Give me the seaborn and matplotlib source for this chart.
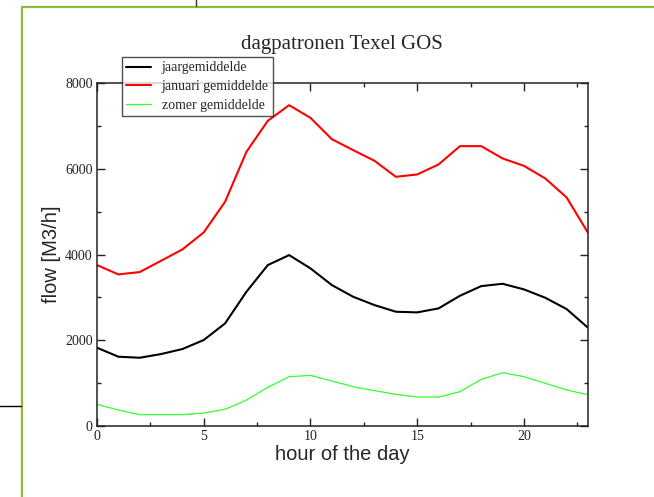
import numpy as np
import pandas as pd
import matplotlib
matplotlib.use("Agg")
import matplotlib.pyplot as plt
from matplotlib.lines import Line2D
from matplotlib.ticker import MultipleLocator
import seaborn as sns

hours = list(range(24))
jaar = [1826, 1616, 1592, 1678, 1795, 2005, 2393, 3131, 3753, 3986, 3676, 3287,
        3014, 2820, 2665, 2650, 2743, 3037, 3263, 3317, 3186, 2991, 2727, 2292]
januari = [3753, 3536, 3590, 3853, 4118, 4515, 5230, 6395, 7118, 7483, 7187, 6690,
           6434, 6185, 5812, 5867, 6100, 6527, 6527, 6240, 6068, 5773, 5330, 4506]
zomer = [505, 373, 264, 264, 264, 303, 389, 606, 902, 1150, 1181, 1049,
         917, 824, 738, 676, 676, 800, 1088, 1243, 1150, 995, 839, 730]
series_names = ["jaargemiddelde", "januari gemiddelde", "zomer gemiddelde"]
series_colors = ["#000000", "#ff0000", "#33ff33"]
series_widths = [1.5, 1.5, 0.9]
title = "dagpatronen Texel GOS"
xlabel = "hour of the day"
ylabel = "flow [M3/h]"

df = pd.DataFrame({
    "hour": hours * 3,
    "flow": jaar + januari + zomer,
    "series": [series_names[0]] * 24 + [series_names[1]] * 24 + [series_names[2]] * 24,
})

sns.set_style("white")
plt.rcParams["font.family"] = ["Liberation Serif", "DejaVu Serif"]

fig = plt.figure(figsize=(6.54, 4.97), dpi=100)
ax = fig.add_axes([97 / 654, 1 - 426 / 497, (588 - 97) / 654, (426 - 83) / 497])

for name, col, lw in zip(series_names, series_colors, series_widths):
    sns.lineplot(data=df[df["series"] == name], x="hour", y="flow", color=col,
                 linewidth=lw, ax=ax, label=name, legend=False)

ax.set_xlim(0, 23)
ax.set_ylim(0, 8000)
ax.xaxis.set_major_locator(MultipleLocator(5))
ax.xaxis.set_minor_locator(MultipleLocator(2.5))
ax.yaxis.set_major_locator(MultipleLocator(2000))
ax.yaxis.set_minor_locator(MultipleLocator(1000))
ax.tick_params(which="both", direction="in", top=True, right=True, bottom=True, left=True,
               labelsize=10, color="#222222", labelcolor="#222222")
ax.tick_params(axis="y", pad=3)
ax.tick_params(axis="x", pad=3)
ax.tick_params(which="major", length=6, width=1)
ax.tick_params(which="minor", length=3, width=1)
for s in ax.spines.values():
    s.set_linewidth(1.1)
    s.set_color("#222222")

ax.set_xlabel(xlabel, family=["Liberation Sans", "DejaVu Sans"], fontsize=14.5, labelpad=1)
ax.set_ylabel(ylabel, family=["Liberation Sans", "DejaVu Sans"], fontsize=14.5, labelpad=3)
fig.text(342 / 654, 1 - 45 / 497, title, ha="center", va="center", fontsize=15)

handles = [Line2D([], [], color=c, lw=w) for c, w in zip(series_colors, series_widths)]
leg = fig.legend(handles, series_names, loc="upper left",
                 bbox_to_anchor=(122 / 654, 1 - 57 / 497), frameon=True, fancybox=False,
                 fontsize=10, handlelength=1.75, borderpad=0.32, labelspacing=0.4,
                 handletextpad=0.8, borderaxespad=0)
leg.get_frame().set_edgecolor("#222222")
leg.get_frame().set_linewidth(1.0)

# surrounding page frame
fc = "#8db83a"
fig.add_artist(Line2D([22 / 654, 22 / 654], [0, 1 - 7 / 497], color=fc, lw=1.6))
fig.add_artist(Line2D([22 / 654, 1], [1 - 7 / 497, 1 - 7 / 497], color=fc, lw=1.6))
fig.add_artist(Line2D([196 / 654, 196 / 654], [1 - 6 / 497, 1], color="#333333", lw=1.0))
fig.add_artist(Line2D([0, 21 / 654], [1 - 406 / 497, 1 - 406 / 497], color="black", lw=1.0))

fig.savefig("out.png", dpi=100)
